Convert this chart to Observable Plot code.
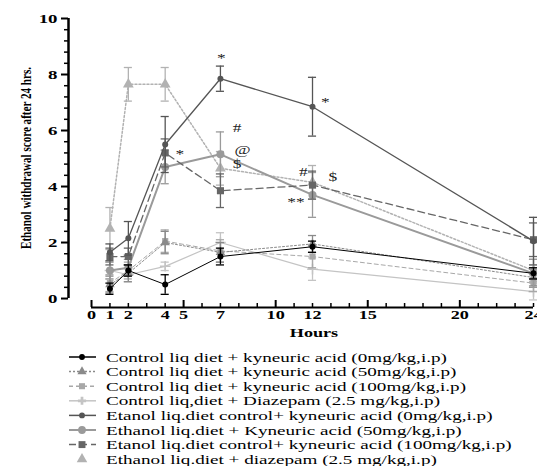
<!DOCTYPE html>
<html><head><meta charset="utf-8">
<script src="https://cdn.jsdelivr.net/npm/d3@7"></script>
<script src="https://cdn.jsdelivr.net/npm/@observablehq/plot@0.6"></script>
<style>
body{margin:0;background:#fff}
#chart svg{display:block}
</style>
</head><body><div id="chart"></div>
<script>
// ---- data ----
const hours = [1, 2, 4, 7, 12, 24];
const seriesNames = [
  "Control liq diet + kyneuric acid (0mg/kg,i.p)",
  "Control liq diet + kyneuric acid (50mg/kg,i.p)",
  "Control liq diet + kyneuric acid (100mg/kg,i.p)",
  "Control liq,diet + Diazepam (2.5 mg/kg,i.p)",
  "Etanol liq.diet control+ kyneuric acid (0mg/kg,i.p)",
  "Ethanol liq.diet + Kyneuric acid (50mg/kg,i.p)",
  "Etanol liq.diet control+ kyneuric acid (100mg/kg,i.p)",
  "Ethanol liq.diet + diazepam (2.5 mg/kg,i.p)"
];
const ctrlKA0      = [0.35, 1.0, 0.5, 1.5, 1.85, 0.9];
const ctrlKA0Err   = [0.2, 0.2, 0.35, 0.3, 0.2, 0.2];
const ctrlKA50     = [0.5, 0.9, 2.0, 1.65, 1.95, 0.75];
const ctrlKA50Err  = [0.3, 0.3, 0.4, 0.35, 0.3, 0.3];
const ctrlKA100    = [0.55, 1.0, 2.05, 1.7, 1.5, 0.55];
const ctrlKA100Err = [0.3, 0.3, 0.4, 0.4, 0.4, 0.3];
const ctrlDiaz     = [1.0, 0.85, 1.15, 2.0, 1.05, 0.25];
const ctrlDiazErr  = [0.3, 0.25, 0.15, 0.35, 0.4, 0.3];
const ethKA0       = [1.65, 2.15, 5.5, 7.85, 6.85, 2.05];
const ethKA0Err    = [0.3, 0.6, 1.0, 0.45, 1.05, 0.85];
const ethKA50      = [1.0, 1.1, 4.7, 5.15, 3.7, 0.9];
const ethKA50Err   = [0.3, 0.3, 0.6, 0.8, 0.8, 0.5];
const ethKA100     = [1.5, 1.5, 5.2, 3.85, 4.05, 2.1];
const ethKA100Err  = [0.3, 0.3, 0.5, 0.6, 0.5, 0.6];
const ethDiaz      = [2.5, 7.65, 7.65, 4.65, 4.15, 1.0];
const ethDiazErr   = [0.75, 0.6, 0.6, 0.6, 0.6, 0.4];

const annText = ["*", "*", "*", "#", "@", "$", "#", "$", "**"];
const annX    = [7.05, 12.7, 4.8, 7.9, 8.2, 7.9, 11.5, 13.1, 11.1];
const annY    = [8.6, 7.0, 5.15, 6.1, 5.3, 4.8, 4.5, 4.35, 3.45];

const yMajorTicks = [0, 2, 4, 6, 8, 10];
const yMinorTicks = [0.4, 0.8, 1.2, 1.6, 2.4, 2.8, 3.2, 3.6, 4.4, 4.8, 5.2, 5.6, 6.4, 6.8, 7.2, 7.6, 8.4, 8.8, 9.2, 9.6];
const xTickLabels = [0, 1, 2, 4, 5, 7, 10, 12, 15, 20, 24];
const xMajorTicks = [0, 5, 10, 15, 20];
const xMinorTicks = [1, 2, 3, 4, 6, 7, 8, 9, 11, 12, 13, 14, 16, 17, 18, 19, 21, 22, 23, 24];
const yTitle = "Ethanol withdrawal score after 24 hrs.";
const xTitle = "Hours";

// ---- styles ----
const means = [ctrlKA0, ctrlKA50, ctrlKA100, ctrlDiaz, ethKA0, ethKA50, ethKA100, ethDiaz];
const errs  = [ctrlKA0Err, ctrlKA50Err, ctrlKA100Err, ctrlDiazErr, ethKA0Err, ethKA50Err, ethKA100Err, ethDiazErr];
const styles = [
  {color: "#000000", width: 1,   dash: null,  symbol: "circle",   r: 3,   line: true},
  {color: "#8a8a8a", width: 1,   dash: "2,2", symbol: "triangle", r: 3.5, line: true},
  {color: "#a8a8a8", width: 1,   dash: "4,3", symbol: "square",   r: 3.5, line: true},
  {color: "#c4c4c4", width: 1.2, dash: null,  symbol: "plus",     r: 3.5, line: true},
  {color: "#555555", width: 1.3, dash: null,  symbol: "circle",   r: 3,   line: true},
  {color: "#9a9a9a", width: 2,   dash: null,  symbol: "circle",   r: 4,   line: true},
  {color: "#666666", width: 1.3, dash: "7,4", symbol: "square",   r: 4,   line: true},
  {color: "#b2b2b2", width: 1.5, dash: "2,2", symbol: "triangle", r: 4,   line: false}
];
const drawOrder = [7, 3, 2, 1, 5, 6, 0, 4];

const rows = means.map((m, i) => hours.map((h, j) => ({s: i, x: h, y: m[j], e: errs[i][j]})));

const marks = [];
for (const i of drawOrder) {
  const st = styles[i], d = rows[i];
  marks.push(Plot.line(d, {x: "x", y: "y", stroke: st.color, strokeWidth: st.width, strokeDasharray: st.dash}));
  marks.push(Plot.ruleX(d, {x: "x", y1: r => r.y - r.e, y2: r => r.y + r.e, stroke: st.color, strokeWidth: 1.3}));
  marks.push(Plot.ruleY(d, {y: r => r.y + r.e, x1: r => r.x - 0.22, x2: r => r.x + 0.22, stroke: st.color, strokeWidth: 1.3}));
  marks.push(Plot.ruleY(d, {y: r => r.y - r.e, x1: r => r.x - 0.22, x2: r => r.x + 0.22, stroke: st.color, strokeWidth: 1.3}));
  marks.push(Plot.dot(d, {x: "x", y: "y", symbol: () => st.symbol, r: st.r,
    fill: st.symbol === "plus" ? "none" : st.color, stroke: st.color, strokeWidth: st.symbol === "plus" ? 1.5 : 0}));
}
const ann = annText.map((t, i) => ({t, x: annX[i], y: annY[i]}));

const yMin = -0.32, xMin = -1.25;
const plot = Plot.plot({
  width: 537, height: 340,
  marginLeft: 68, marginRight: 4, marginTop: 18, marginBottom: 33,
  x: {domain: [xMin, 24]},
  y: {domain: [yMin, 10]},
  style: {fontFamily: "Liberation Serif", background: "white", overflow: "visible", color: "#000"},
  marks: [
    Plot.axisY({ticks: yMinorTicks, tickSize: 4, strokeWidth: 1.5, tickFormat: () => "", label: null}),
    Plot.axisY({ticks: yMajorTicks, tickSize: 7, tickPadding: 4, strokeWidth: 2, fontSize: 13, fontWeight: "bold", tickFormat: d => String(d), label: null}),
    Plot.ruleX([xMin], {y1: 0, y2: 10, strokeWidth: 2.5}),
    Plot.axisX({ticks: xTickLabels, tickSize: 0, tickPadding: 3, fontSize: 12.5, fontWeight: "bold", tickFormat: d => String(d), label: null}),
    Plot.ruleY([yMin], {x1: 0, x2: 24, strokeWidth: 2}),
    Plot.ruleX(xMajorTicks, {insetTop: 282, strokeWidth: 2}),
    Plot.ruleX(xMinorTicks, {insetTop: 285, strokeWidth: 1.5}),
    Plot.text([xTitle], {frameAnchor: "bottom", textAnchor: "middle", lineAnchor: "middle", dx: 13, dy: 25, fontSize: 12.5, fontWeight: "bold"}),
    Plot.text([yTitle], {frameAnchor: "left", textAnchor: "middle", lineAnchor: "middle", rotate: -90, dx: -42, dy: -5, fontSize: 15, fontWeight: "bold"}),
    ...marks,
    Plot.text(ann, {x: "x", y: "y", text: "t", fontSize: 12, fill: "#222"})
  ]
});
const holder = document.getElementById("chart");
holder.appendChild(plot);

// horizontal stretch of glyphs, as in the reference
plot.querySelectorAll("text").forEach(t => {
  const s = t.textContent;
  if (!s) return;
  if (s.trim() === yTitle) {
    t.setAttribute("textLength", 182);
    t.setAttribute("lengthAdjust", "spacingAndGlyphs");
    return;
  }
  const L = t.getComputedTextLength();
  t.setAttribute("textLength", L * 1.45);
  t.setAttribute("lengthAdjust", "spacingAndGlyphs");
});

// ---- legend ----
const symMap = {circle: d3.symbolCircle, triangle: d3.symbolTriangle, square: d3.symbolSquare, plus: d3.symbolCross};
const leg = d3.create("svg").attr("width", 537).attr("height", 126).style("display", "block")
  .style("font-family", "Liberation Serif").style("font-size", "13px");
seriesNames.forEach((name, i) => {
  const st = styles[i];
  const cy = 17 + i * 14.6;
  const g = leg.append("g").attr("transform", `translate(0,${cy})`);
  if (st.line) {
    g.append("line").attr("x1", 69).attr("x2", 96).attr("y1", 0).attr("y2", 0)
      .attr("stroke", st.color).attr("stroke-width", Math.max(1.5, st.width))
      .attr("stroke-dasharray", st.dash);
  }
  g.append("path").attr("transform", "translate(82,0)")
    .attr("d", d3.symbol(symMap[st.symbol], st.r * st.r * 3)())
    .attr("fill", st.color);
  g.append("text").attr("x", 106).attr("y", 0).attr("dy", "0.35em").attr("fill", "#000").text(name);
});
holder.appendChild(leg.node());
leg.selectAll("text").each(function() {
  const L = this.getComputedTextLength();
  this.setAttribute("textLength", L * 1.47);
  this.setAttribute("lengthAdjust", "spacingAndGlyphs");
});
</script>
</body></html>
